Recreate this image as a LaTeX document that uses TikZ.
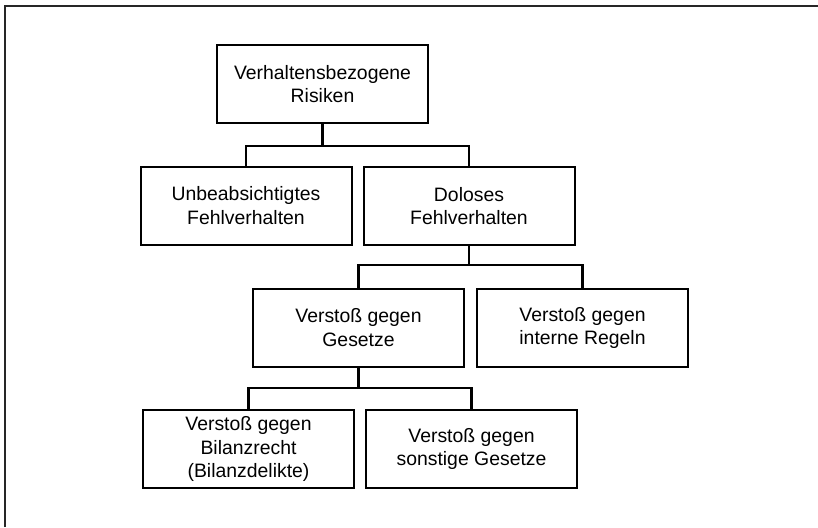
\documentclass[tikz,border=0pt]{standalone}
\usepackage{fontspec}
\setmainfont{Liberation Sans}
\begin{document}
\begin{tikzpicture}[x=1pt,y=-1pt,
  box/.style={draw=black, line width=2pt, rectangle, minimum width=211pt, minimum height=78pt,
    inner sep=0pt, align=center, font=\fontsize{19.4}{23.3}\selectfont},
  conn/.style={draw=black, line width=2.2pt},
  frame/.style={draw=black!85, line width=2pt}]
\useasboundingbox (0,0) rectangle (818,527);
% partial outer frame (top and left edges)
\coordinate (fa) at (5,527);
\coordinate (fb) at (5,6);
\coordinate (fc) at (818,6);
\draw[frame] (fa) -- (fb) -- (fc);
% boxes
\node[box] (top) at (322.5,84) {Verhaltensbezogene\\Risiken};
\node[box] (unb) at (246,205.5) {Unbeabsichtigtes\\Fehlverhalten};
\node[box] (dol) at (469,206) {Doloses\\Fehlverhalten};
\node[box] (ges) at (358.5,327.5) {Versto\ss{} gegen\\Gesetze};
\node[box] (int) at (582.5,328) {Versto\ss{} gegen\\interne Regeln};
\node[box] (bil) at (248.5,449) {Versto\ss{} gegen\\Bilanzrecht\\(Bilanzdelikte)};
\node[box] (son) at (471.5,449) {Versto\ss{} gegen\\sonstige Gesetze};
% junctions
\coordinate (j1) at (322.5,146);
\coordinate (j2) at (469,265);
\coordinate (j3) at (358.5,388);
% connectors
\draw[conn] (top.south) -- (j1);
\draw[conn] (unb.north) |- (j1) -| (dol.north);
\draw[conn] (dol.south) -- (j2);
\draw[conn] (ges.north) |- (j2) -| (int.north);
\draw[conn] (ges.south) -- (j3);
\draw[conn] (bil.north) |- (j3) -| (son.north);
\end{tikzpicture}
\end{document}
